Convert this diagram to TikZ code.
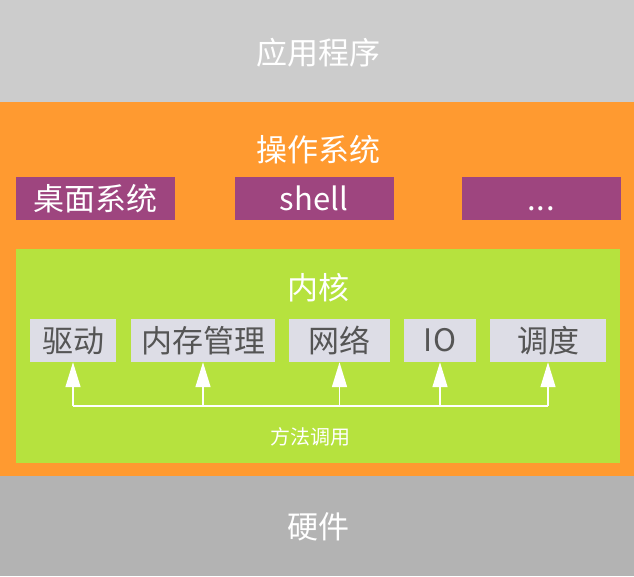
\documentclass[tikz,border=0pt]{standalone}
\usepackage{fontspec}
\newfontfamily\cjk{Noto Sans CJK SC}
\usepackage{tikz}
\usetikzlibrary{arrows.meta, positioning}
\definecolor{appgray}{HTML}{CCCCCC}
\definecolor{hwgray}{HTML}{B3B3B3}
\definecolor{osorange}{HTML}{FF9A30}
\definecolor{kgreen}{HTML}{B6E23E}
\definecolor{shpurple}{HTML}{9E457F}
\definecolor{modgray}{HTML}{DDDDE6}
\definecolor{modtext}{HTML}{555555}

\begin{document}
\begin{tikzpicture}[
    x=1pt, y=-1pt,
    band/.style  ={inner sep=0pt, minimum width=634pt},
    title/.style ={text=white, inner sep=0pt, font=\cjk\fontsize{31}{31}\selectfont},
    shbox/.style ={fill=shpurple, text=white, inner sep=0pt, minimum height=43pt,
                   minimum width=159pt, font=\cjk\fontsize{31}{31}\selectfont},
    modbox/.style={fill=modgray, text=modtext, inner sep=0pt, minimum height=43pt,
                   font=\cjk\fontsize{31}{31}\selectfont},
    arr/.style   ={-{Triangle[length=25pt, width=15pt]}, white, line width=1.5pt},
    lbl/.style   ={text=white, inner sep=0pt, font=\cjk\fontsize{20}{20}\selectfont}
]
\useasboundingbox (0,0) rectangle (634,576);

%% ── Layers (background bands) ───────────────────────────────────
\node[band, fill=appgray, minimum height=102pt] (app) at (317,51)  {};
\node[band, fill=osorange, minimum height=374pt] (os) at (317,289) {};
\node[band, fill=hwgray, minimum height=100pt]  (hw)  at (317,526) {};
\node[fill=kgreen, inner sep=0pt, minimum width=604pt, minimum height=214pt]
    (kernel) at (318,356) {};

%% ── Titles ───────────────────────────────────────────────────────
\node[title] (apptitle)    at (318,53)  {应用程序};
\node[title] (ostitle)     at (318,150) {操作系统};
\node[title] (kerneltitle) at (318,288) {内核};
\node[title] (hwtitle)     at (318,527) {硬件};

%% ── Shell row ────────────────────────────────────────────────────
\node[shbox] (desktop) at (95.5,198.5) {桌面系统};
\node[shbox] (shell)   at (314,198.5)  {shell};
\node[shbox] (more)    at (541,198.5)  {\vphantom{桌面}.\kern1pt.\kern1pt.};

%% ── Kernel modules ───────────────────────────────────────────────
\node[modbox, minimum width=86pt]  (driver) at (73,340.5)    {驱动};
\node[modbox, minimum width=144pt] (mem)    at (203,340.5)   {内存管理};
\node[modbox, minimum width=101pt] (net)    at (339.5,340.5) {网络};
\node[modbox, minimum width=72pt]  (io)     at (440,340.5)   {IO};
\node[modbox, minimum width=116pt] (sched)  at (548,340.5)   {调度};

%% ── Method calls ─────────────────────────────────────────────────
\coordinate (bus) at (0,406);
\draw[white, line width=1.5pt] (driver.south |- bus) -- (sched.south |- bus);
\foreach \m in {driver, mem, net, io, sched}
    \draw[arr] (\m.south |- bus) -- (\m.south);
\node[lbl] (calls) at (310,437) {方法调用};

\end{tikzpicture}
\end{document}
